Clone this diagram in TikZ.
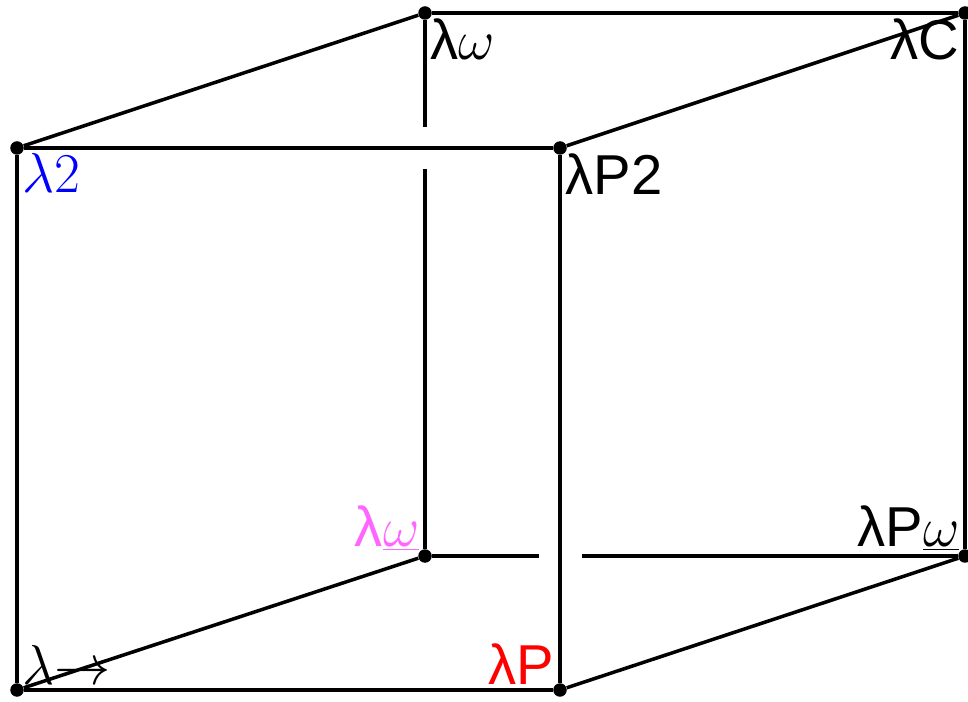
\RequirePackage{fix-cm}
\documentclass[tikz,border=0pt]{standalone}
\usepackage{fontspec}
\newfontfamily\lblfont{Liberation Sans}
\definecolor{lampink}{RGB}{255,102,255}
\tikzset{
  vert/.style={circle,fill=black,inner sep=0pt,minimum size=0.27cm},
  edge/.style={line width=2pt},
  lbl/.style={inner sep=3pt,font=\fontsize{32}{36}\selectfont}
}
\begin{document}
\begin{tikzpicture}
        \useasboundingbox (0,0) rectangle (19.36,14.02);
        % corners of the cube
        \node[vert] (lam) at (0.34, 0.22) {};
        \node[vert] (lamP) at (11.2, 0.22) {};
        \node[vert] (lamtwo) at (0.34, 11.06) {};
        \node[vert] (lamPtwo) at (11.2, 11.06) {};
        \node[vert] (lamwu) at (8.5, 2.9) {};
        \node[vert] (lamPwu) at (19.3, 2.9) {};
        \node[vert] (lamw) at (8.5, 13.76) {};
        \node[vert] (lamC) at (19.3, 13.76) {};

        % back edges, broken where the front edges pass
        \coordinate (xtop) at (lamw |- lamtwo);
        \coordinate (xbot) at (lamP |- lamwu);
        \draw [edge] (lamw) -- ([yshift=0.42cm]xtop);
        \draw [edge] ([yshift=-0.42cm]xtop) -- (lamwu);
        \draw [edge] (lamwu) -- ([xshift=-0.42cm]xbot);
        \draw [edge] ([xshift=0.44cm]xbot) -- (lamPwu);
        \draw [edge] (lamPwu) -- (lamC);
        \draw [edge] (lamC) -- (lamw);

        % front face
        \draw [edge] (lam) -- (lamP) -- (lamPtwo) -- (lamtwo) -- (lam);

        % diagonals
        \draw [edge] (lam) -- (lamwu);
        \draw [edge] (lamP) -- (lamPwu);
        \draw [edge] (lamtwo) -- (lamw);
        \draw [edge] (lamPtwo) -- (lamC);

        % labels
        \node[lbl, anchor=south west] (tlam) at (lam) {$\lambda{\to}$};
        \node[lbl, anchor=south east, text=red] (tlamP) at (lamP) {\lblfont λP};
        \node[lbl, anchor=north west, text=blue] (tlamtwo) at (lamtwo) {$\lambda 2$};
        \node[lbl, anchor=north west] (tlamPtwo) at (lamPtwo) {\lblfont λP2};
        \node[lbl, anchor=south east, text=lampink] (tlamwu) at (lamwu) {{\lblfont λ}$\underline{\omega}$};
        \node[lbl, anchor=south east] (tlamPwu) at (lamPwu) {{\lblfont λP}$\underline{\omega}$};
        \node[lbl, anchor=north west] (tlamw) at (lamw) {{\lblfont λ}$\omega$};
        \node[lbl, anchor=north east] (tlamC) at (lamC) {\lblfont λC};
    \end{tikzpicture}
\end{document}
